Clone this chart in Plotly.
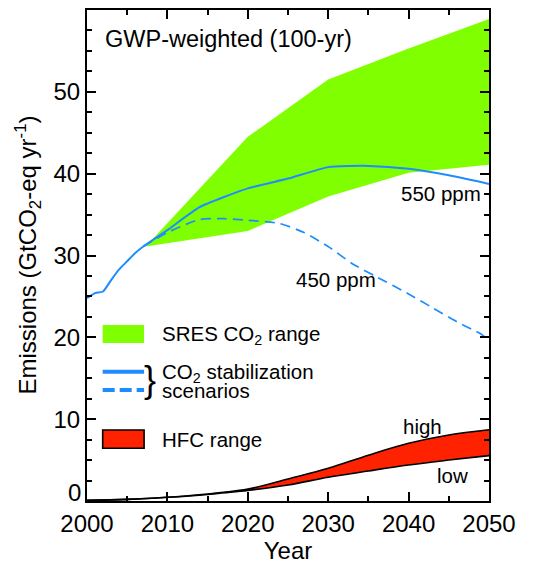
import plotly.graph_objects as go

# ---- data ----
sres_years = [2007.3, 2020, 2030, 2040, 2050]
sres_upper = [31.1, 44.5, 51.5, 55.3, 58.9]
sres_lower = [31.1, 33.0, 37.2, 40.1, 41.1]

s550_years = [2000, 2001, 2002, 2003, 2004, 2005, 2006, 2007, 2010, 2014, 2020, 2025, 2030, 2035, 2040, 2045, 2050]
s550_vals = [24.8, 25.4, 25.6, 27.0, 28.3, 29.3, 30.3, 31.1, 33.1, 35.9, 38.2, 39.4, 40.8, 40.95, 40.6, 39.8, 38.75]

s450_years = [2007, 2010, 2014, 2017, 2020, 2024, 2027, 2030, 2033, 2036, 2040, 2043, 2046, 2049, 2050]
s450_vals = [31.1, 32.8, 34.4, 34.5, 34.3, 33.9, 32.8, 31.1, 29.0, 27.4, 25.3, 23.6, 21.9, 20.4, 19.6]

hfc_years = [2000, 2005, 2010, 2015, 2017, 2020, 2025, 2030, 2035, 2040, 2045, 2050]
hfc_high = [0.1, 0.2, 0.45, 0.85, 1.05, 1.45, 2.7, 4.0, 5.6, 7.05, 8.07, 8.7]
hfc_low = [0.1, 0.2, 0.45, 0.8, 1.0, 1.3, 1.96, 2.9, 3.67, 4.4, 5.0, 5.55]

x_ticks = [2000, 2010, 2020, 2030, 2040, 2050]
y_ticks = [0, 10, 20, 30, 40, 50, 60]
y_ticklabels = ["", "10", "20", "30", "40", "50", "60"]

GREEN = "rgb(128,255,0)"
BLUE = "rgb(30,140,255)"
RED = "rgb(255,34,0)"
FONT = "Liberation Sans, Arial, Helvetica, sans-serif"

fig = go.Figure()

# SRES band
fig.add_trace(go.Scatter(x=sres_years, y=sres_lower, mode="lines", line=dict(width=0),
                         showlegend=False, hoverinfo="skip"))
fig.add_trace(go.Scatter(x=sres_years, y=sres_upper, mode="lines", line=dict(width=0),
                         fill="tonexty", fillcolor=GREEN, showlegend=False, hoverinfo="skip"))

# HFC band
fig.add_trace(go.Scatter(x=hfc_years, y=hfc_low, mode="lines",
                         line=dict(color="black", width=1.6, shape="spline"),
                         showlegend=False))
fig.add_trace(go.Scatter(x=hfc_years, y=hfc_high, mode="lines",
                         line=dict(color="black", width=1.6, shape="spline"),
                         fill="tonexty", fillcolor=RED, showlegend=False))

# stabilization scenarios
fig.add_trace(go.Scatter(x=s450_years, y=s450_vals, mode="lines",
                         line=dict(color=BLUE, width=1.7, dash="10px,6px", shape="spline", smoothing=0.6),
                         showlegend=False))
fig.add_trace(go.Scatter(x=s550_years, y=s550_vals, mode="lines",
                         line=dict(color=BLUE, width=2, shape="spline", smoothing=0.5),
                         showlegend=False))

shapes = [
    # legend swatches
    dict(type="rect", xref="x", yref="y", x0=2001.95, x1=2007.1, y0=19.3, y1=21.5,
         fillcolor=GREEN, line=dict(width=0), layer="above"),
    dict(type="line", xref="x", yref="y", x0=2001.95, x1=2007.1, y0=15.8, y1=15.8,
         line=dict(color=BLUE, width=4), layer="above"),
    dict(type="line", xref="x", yref="y", x0=2001.95, x1=2007.1, y0=13.57, y1=13.57,
         line=dict(color=BLUE, width=4, dash="12px,5px"), layer="above"),
    dict(type="rect", xref="x", yref="y", x0=2001.95, x1=2007.1, y0=6.45, y1=8.68,
         fillcolor=RED, line=dict(width=1.6, color="black"), layer="above"),
]

tf = dict(family=FONT, size=20.5, color="black")
annotations = [
    dict(x=2002.0, y=56.5, text="GWP-weighted (100-yr)", xanchor="left", yanchor="middle",
         showarrow=False, font=dict(family=FONT, size=23.5, color="black")),
    dict(x=2038.8, y=37.6, text="550 ppm", xanchor="left", yanchor="middle", showarrow=False, font=tf),
    dict(x=2025.7, y=27.1, text="450 ppm", xanchor="left", yanchor="middle", showarrow=False, font=tf),
    dict(x=2039.1, y=9.1, text="high", xanchor="left", yanchor="middle", showarrow=False, font=tf),
    dict(x=2043.3, y=3.06, text="low", xanchor="left", yanchor="middle", showarrow=False, font=tf),
    dict(x=2009.1, y=20.3, text="SRES CO<sub>2</sub> range", xanchor="left", yanchor="middle",
         showarrow=False, font=tf),
    dict(x=2009.1, y=15.6, text="CO<sub>2</sub> stabilization", xanchor="left", yanchor="middle",
         showarrow=False, font=tf),
    dict(x=2009.1, y=13.45, text="scenarios", xanchor="left", yanchor="middle",
         showarrow=False, font=tf),
    dict(x=2007.8, y=14.85, text="}", xanchor="center", yanchor="middle",
         showarrow=False, font=dict(family=FONT, size=36, color="black")),
    dict(x=2009.1, y=7.55, text="HFC range", xanchor="left", yanchor="middle",
         showarrow=False, font=tf),
    # raised zero label on the y axis (as in the original)
    dict(x=0, xref="paper", y=1.0, text="0", xanchor="right", yanchor="middle", xshift=-4,
         showarrow=False, font=dict(family=FONT, size=24, color="black")),
    # y-axis title
    dict(x=0, xref="paper", y=0.5, yref="paper", xshift=-60, xanchor="center", yanchor="middle",
         text="Emissions (GtCO<sub>2</sub>-eq yr<sup>-1</sup>)", textangle=-90,
         showarrow=False, font=dict(family=FONT, size=24, color="black")),
]

axis_common = dict(showline=True, linecolor="black", linewidth=2, mirror="allticks",
                   ticks="inside", ticklen=9, tickwidth=1.5, tickcolor="black",
                   showgrid=False, zeroline=False, automargin=False,
                   tickfont=dict(family=FONT, size=24, color="black"))

# the page body adds an 8px offset, so the figure is 8px smaller and margins are compensated
fig.update_layout(
    width=526, height=558,
    margin=dict(l=79, r=45, t=2, b=65),
    paper_bgcolor="white", plot_bgcolor="white",
    showlegend=False,
    shapes=shapes, annotations=annotations,
    xaxis=dict(range=[2000, 2050], tickvals=x_ticks,
               minor=dict(dtick=5, ticklen=5, ticks="inside", tickwidth=1.5, tickcolor="black"),
               title=dict(text="Year", font=dict(family=FONT, size=24, color="black"), standoff=0),
               **axis_common),
    yaxis=dict(range=[0, 60], tickvals=y_ticks, ticktext=y_ticklabels,
               minor=dict(dtick=2.5, ticklen=5, ticks="inside", tickwidth=1.5, tickcolor="black"),
               **axis_common),
)

fig.write_html("out.html")
